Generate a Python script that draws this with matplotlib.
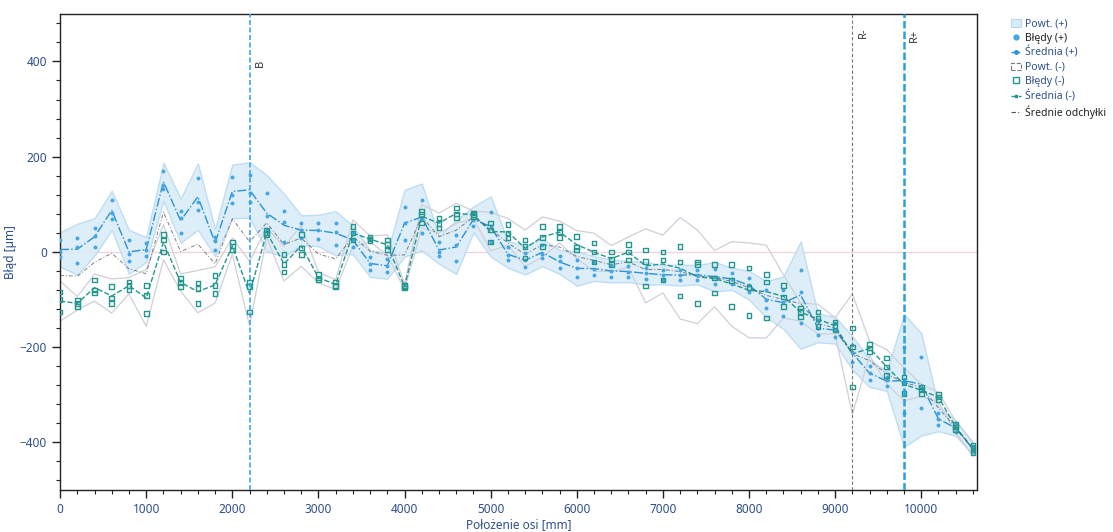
import numpy as np
import matplotlib
matplotlib.use('Agg')
import matplotlib.pyplot as plt
from matplotlib.patches import Patch
from matplotlib.lines import Line2D
from matplotlib.ticker import MultipleLocator

plt.rcParams['font.family'] = ['Noto Sans', 'DejaVu Sans']

# Axis positions [mm], one target every 200 mm
positions = np.arange(0, 10601, 200)

# Errors for the (+) direction, three runs [um]
plus_run1 = [25, 30, 50, 110, 25, 18, 170, 85, 155, 32, 158, 162, 124, 85, 61, 61, 61, 40,
             -10, -15, 95, 110, 20, 36, 82, 84, 10, -2, 15, -9, -17, -22, -28, -30, -33, -38,
             -38, -38, -36, -45, -55, -80, -80, -38, -145, -150, -196, -240, -262, -200, -221,
             -338, -362, -408]
plus_run2 = [0, 10, 34, 82, -5, 5, 140, 72, 105, 22, 120, 124, 75, 63, 46, 46, 42, 25,
             -25, -30, 61, 70, 0, 15, 68, 55, -7, -18, -5, -20, -34, -35, -40, -42, -45, -48,
             -48, -48, -53, -57, -70, -100, -105, -84, -160, -165, -210, -255, -270, -272, -285,
             -350, -370, -414]
plus_run3 = [-10, -23, 11, 70, -20, -8, 132, 40, 88, 4, 103, 105, 45, 20, 30, 28, 15, 10,
             -38, -42, 25, 40, -8, -20, 55, 21, -18, -32, -13, -34, -53, -48, -52, -52, -57, -58,
             -60, -58, -67, -68, -85, -118, -135, -150, -175, -178, -231, -269, -282, -339, -328,
             -364, -378, -420]

# Errors for the (-) direction, three runs [um]
minus_run1 = [-84, -101, -59, -73, -63, -70, 36, -55, -65, -50, 21, -63, 46, -6, 36, -48, -63, 53,
              27, 25, -70, 85, 71, 92, 82, 61, 57, 25, 53, 53, 32, 19, 0, 15, 4, 0,
              11, -21, -27, -27, -34, -48, -70, -118, -126, -147, -160, -195, -223, -263, -284,
              -300, -362, -406]
minus_run2 = [-100, -108, -80, -97, -70, -91, 25, -65, -77, -70, 12, -73, 40, -27, 8, -55, -70, 40,
              30, 15, -73, 78, 60, 80, 78, 46, 40, 11, 30, 42, 10, 0, -15, 0, -20, -17,
              -21, -27, -55, -60, -75, -63, -95, -125, -140, -155, -200, -202, -242, -275, -290,
              -305, -368, -413]
minus_run3 = [-126, -115, -86, -108, -80, -129, 0, -73, -108, -88, 4, -126, 36, -42, -6, -59, -73, 25,
              24, 4, -76, 61, 50, 71, 74, 21, 29, -13, 11, 30, 4, -21, -27, -17, -72, -59,
              -93, -109, -86, -115, -133, -139, -115, -137, -157, -164, -284, -210, -259, -297, -297,
              -310, -374, -421]

# Reference lines
ref_pos = [2200, 9200, 9800]
ref_labels = ['B', 'R-', 'R+']

plus = np.array([plus_run1, plus_run2, plus_run3], dtype=float)
minus = np.array([minus_run1, minus_run2, minus_run3], dtype=float)
plus_mean = plus.mean(axis=0)
minus_mean = minus.mean(axis=0)
plus_s = plus.std(axis=0, ddof=1)
minus_s = minus.std(axis=0, ddof=1)
avg_dev = (plus_mean + minus_mean) / 2

c_blue = '#45a6e3'
c_fill = '#d8ebf9'
c_edge = '#b6d9f1'
c_teal = '#23968e'
c_grey = '#cfcfd8'
c_text = '#2d4f8c'

fig = plt.figure(figsize=(11.13, 5.32), dpi=100)
ax = fig.add_axes([0.054, 0.079, 0.824, 0.895])

ax.axhline(0, color='#f1d3de', lw=0.9, zorder=1)

# repeatability bands
ax.fill_between(positions, plus_mean - 2 * plus_s, plus_mean + 2 * plus_s,
                facecolor=c_fill, edgecolor=c_edge, lw=1.0, alpha=0.85, zorder=2)
ax.plot(positions, minus_mean + 2 * minus_s, color=c_grey, lw=0.9, zorder=2)
ax.plot(positions, minus_mean - 2 * minus_s, color=c_grey, lw=0.9, zorder=2)

# individual errors
for run in plus:
    ax.scatter(positions, run, s=8, color=c_blue, zorder=4, linewidths=0)
for run in minus:
    ax.scatter(positions, run, s=11, marker='s', facecolors='none',
               edgecolors=c_teal, linewidths=1.0, zorder=4)

# means
ax.plot(positions, plus_mean, color='#2a92d6', lw=1.0, ls='-.', zorder=3)
ax.plot(positions, minus_mean, color=c_teal, lw=1.0, ls='--', zorder=3)
ax.plot(positions, avg_dev, color='#555555', lw=0.7, ls=(0, (4, 2, 1, 2)), alpha=0.75, zorder=3)

# reference lines B, R-, R+
ax.axvline(ref_pos[0], color='#3aa9e6', lw=1.2, ls=(0, (3, 1.5)), zorder=5)
ax.axvline(ref_pos[1], color='#777777', lw=0.8, ls=(0, (3, 2)), zorder=5)
ax.axvline(ref_pos[2], color='#2ba0e0', lw=1.8, ls=(0, (3, 1.2)), zorder=5)
for xp, lab, yy in zip(ref_pos, ref_labels, [395, 460, 455]):
    ax.text(xp + 60, yy, lab, rotation=90, fontsize=8, color='#333333',
            ha='left', va='center')

ax.set_xlim(0, 10650)
ax.set_ylim(-500, 500)
ax.set_xticks(np.arange(0, 10001, 1000))
ax.set_yticks([-400, -200, 0, 200, 400])
ax.xaxis.set_minor_locator(MultipleLocator(200))
ax.yaxis.set_minor_locator(MultipleLocator(40))
ax.tick_params(which='major', length=6, width=1.0, labelsize=8.5, colors='#222222')
ax.tick_params(which='minor', length=3, width=0.8, colors='#222222')
for lbl in ax.get_xticklabels() + ax.get_yticklabels():
    lbl.set_color(c_text)
for sp in ax.spines.values():
    sp.set_color('#222222')
    sp.set_linewidth(1.0)

ax.set_xlabel('Położenie osi [mm]', fontsize=8.5, color=c_text, labelpad=1)
ax.set_ylabel('Błąd [µm]', fontsize=8.5, color=c_text, labelpad=2)

handles = [
    Patch(facecolor=c_fill, edgecolor=c_edge, lw=0.8),
    Line2D([], [], marker='o', color=c_blue, ls='none', markersize=3.5),
    Line2D([], [], color='#2a92d6', ls='-.', lw=1.0, marker='o', markersize=2.5),
    Patch(facecolor='white', edgecolor='#777777', ls='--', lw=0.8),
    Line2D([], [], marker='s', markerfacecolor='none', markeredgecolor=c_teal, ls='none', markersize=4),
    Line2D([], [], color=c_teal, ls='--', lw=1.0, marker='s', markersize=2),
    Line2D([], [], color='#555555', ls=(0, (4, 2, 1, 2)), lw=0.8),
]
labels = ['Powt. (+)', 'Błędy (+)', 'Średnia (+)', 'Powt. (-)', 'Błędy (-)', 'Średnia (-)', 'Średnie odchyłki']
leg = fig.legend(handles, labels, loc='upper left', bbox_to_anchor=(0.908, 0.965),
                 frameon=False, fontsize=7.5, handlelength=1.0, handletextpad=0.4,
                 labelspacing=0.3, borderaxespad=0, borderpad=0)
text_colors = [c_text, '#222222', c_text, c_text, c_text, c_text, '#222222']
for t, c in zip(leg.get_texts(), text_colors):
    t.set_color(c)

fig.savefig('out.png', dpi=100)
